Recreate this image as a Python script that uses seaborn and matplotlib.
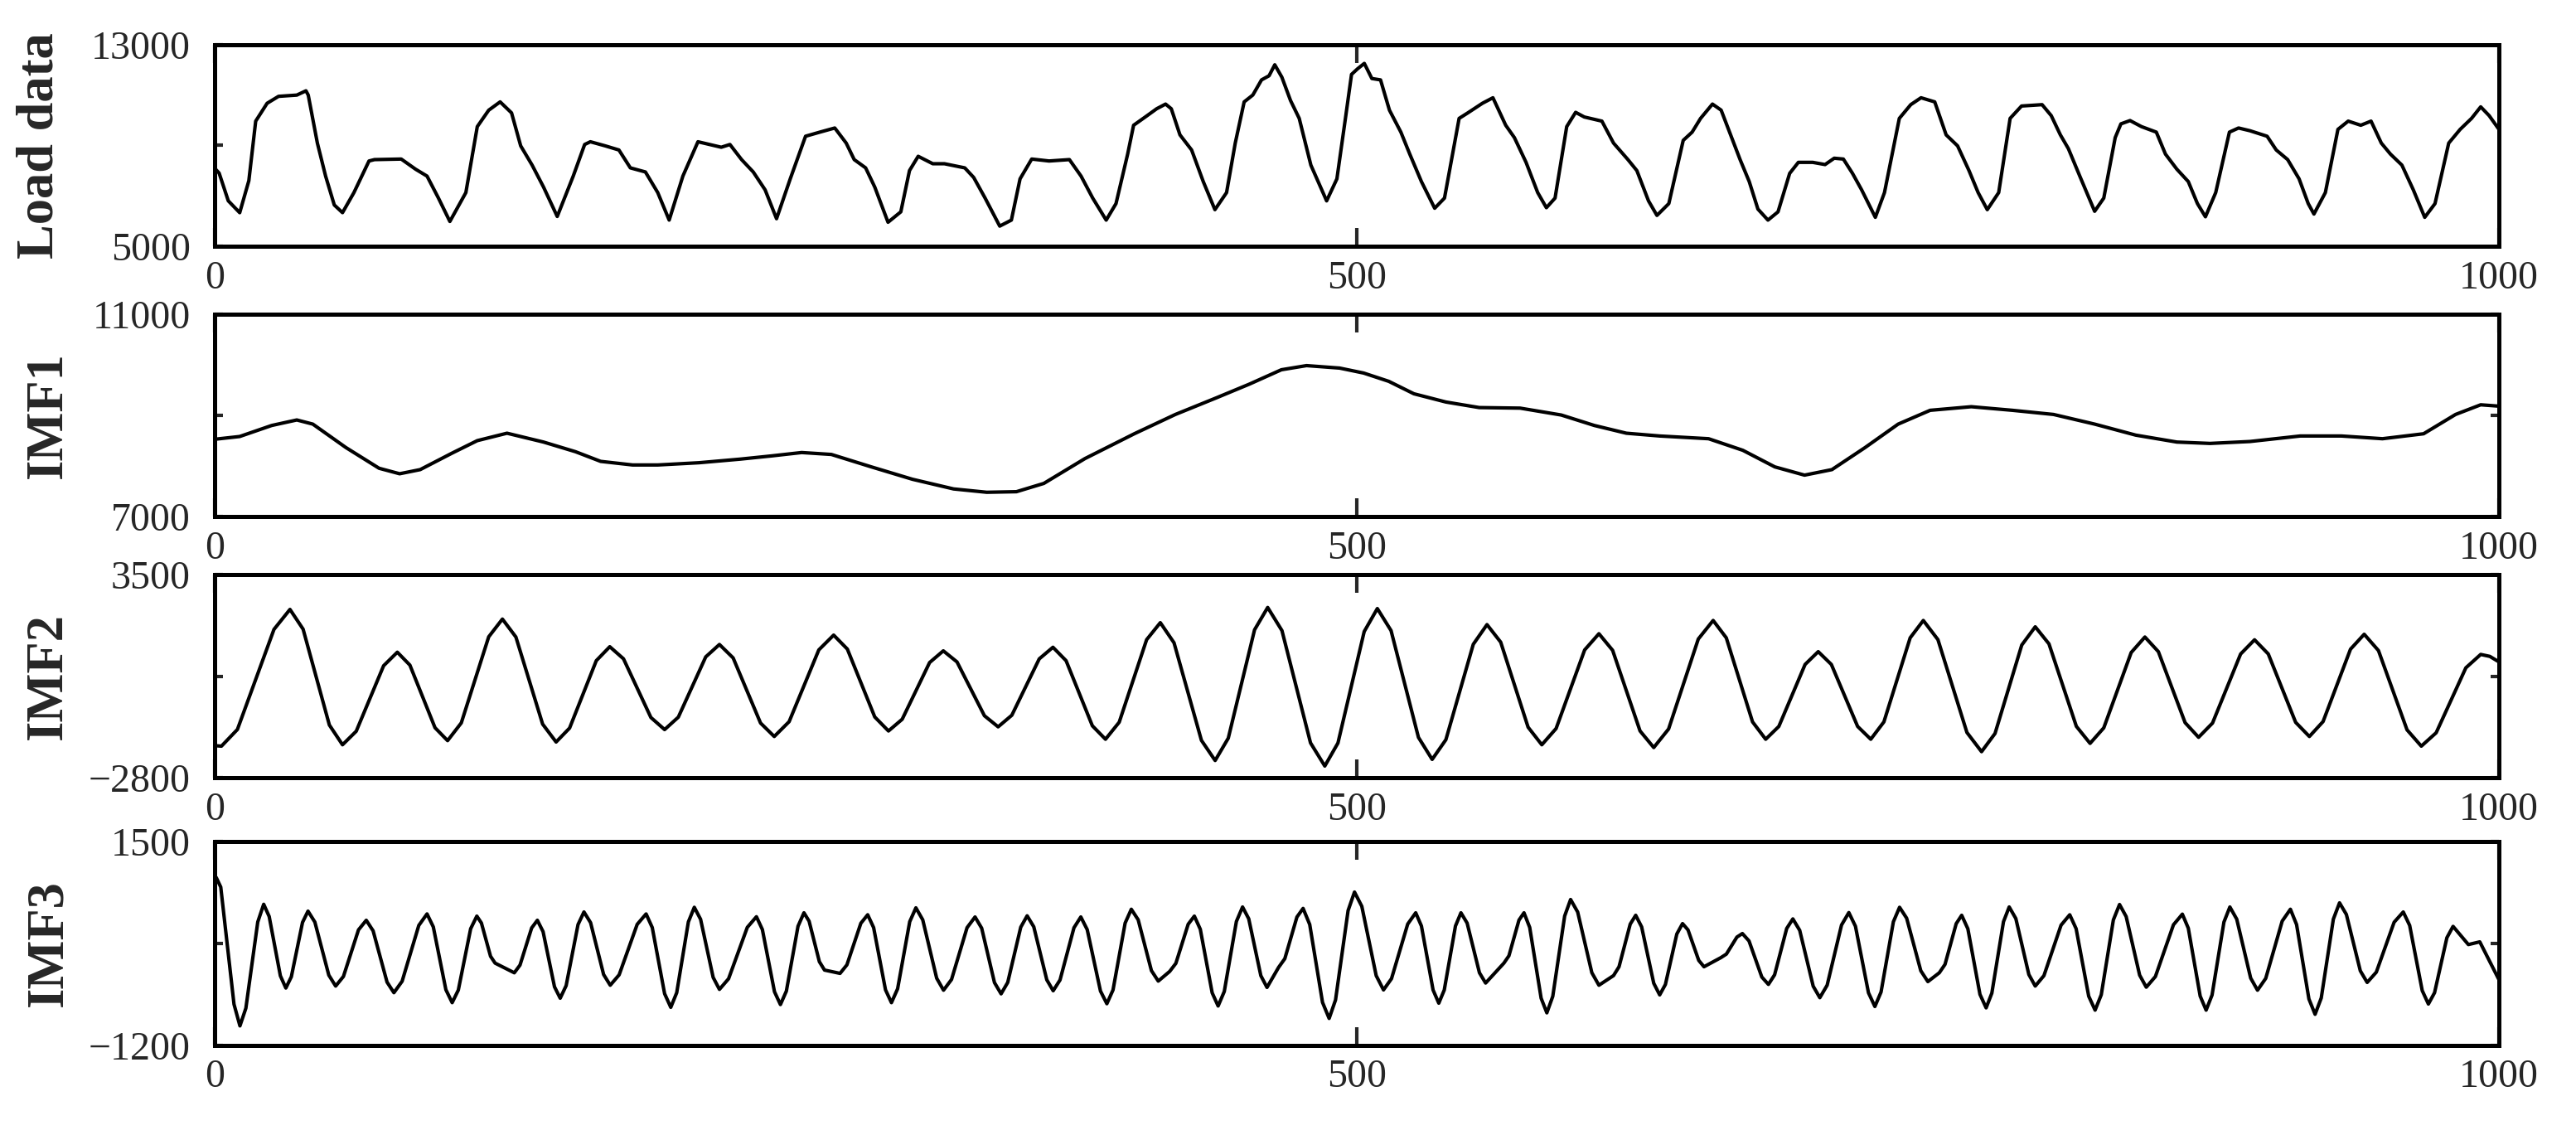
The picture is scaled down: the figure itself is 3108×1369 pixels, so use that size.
"""Load data and its first three IMFs, stacked line panels."""

import matplotlib

matplotlib.use("Agg")
import matplotlib.pyplot as plt
import pandas as pd
import seaborn as sns

# ---- values (sample index, value) ----
load_x = [0, 2, 6, 11, 15, 18, 23, 28, 36, 40, 41, 45, 48.6, 52.4, 56, 61, 67.6, 70,
          81.7, 88, 93, 98, 103, 110, 115, 120, 125, 130, 134, 139, 144, 150, 157, 162,
          164.5, 171, 177, 182, 188.6, 194, 199, 205, 211.6, 221.8, 225.6, 230.7, 235.8,
          241, 246, 252, 258.7, 265, 271.5, 276.5, 280, 285, 289, 294.8, 300.4, 304.2,
          308, 314.4, 319.5, 328.4, 332.3, 337.3, 343.7, 348.8, 352.6, 357.7, 365.3,
          374.2, 379.3, 384.4, 390.3, 394.6, 399.7, 402.3, 407.4, 412.4, 416.3, 418.8,
          422.6, 427.7, 432.8, 437.9, 443, 446.8, 450.7, 454.5, 458.3, 461.6, 464.1,
          467.2, 471, 474.8, 479.9, 486.8, 491.3, 495.2, 497.7, 500.3, 503.3, 506.6,
          510.4, 514.3, 519.3, 523.2, 528.3, 534.1, 538.4, 544.8, 548.6, 555, 559.6,
          565.2, 569, 574.1, 579.2, 583, 586.8, 591.9, 595.8, 599.6, 607.3, 612.4, 618.7,
          622.6, 627.7, 631.4, 636.6, 642.9, 646.8, 650.5, 655.7, 659.5, 663.2, 667.8,
          671.8, 675.6, 680, 684.4, 689.5, 693.3, 699.6, 705, 709, 713, 717, 721, 727,
          731, 737.5, 742.5, 747, 753, 758, 763, 768, 772, 776, 781, 786, 791, 800, 804,
          808, 811.5, 816.5, 823, 827, 832, 834.5, 838.5, 843.5, 850, 854, 859, 864, 868,
          871.5, 876, 882, 886, 891, 898.5, 902.5, 907.5, 912.5, 916.5, 919, 924, 929.5,
          934, 939.5, 944, 948.5, 952.5, 957.5, 962.5, 967.5, 972, 978, 983, 988, 992,
          995.7, 1000]
load_y = [8100, 7900, 6800, 6330, 7600, 9966, 10675, 10950, 11000, 11170, 11000, 9093,
          7783, 6636, 6331, 7128, 8383, 8438, 8460, 8056, 7783, 6910, 5982, 7128, 9748,
          10400, 10730, 10293, 8984, 8220, 7347, 6180, 7783, 9038, 9147, 8984, 8820, 8110,
          7947, 7128, 6036, 7783, 9147, 8929, 9038, 8438, 7947, 7237, 6091, 7674, 9366,
          9530, 9693, 9093, 8438, 8110, 7347, 5950, 6364, 8002, 8569, 8274, 8274, 8110,
          7729, 6910, 5797, 6036, 7674, 8460, 8383, 8438, 7783, 6910, 6036, 6691, 8656,
          9802, 10130, 10457, 10643, 10457, 9420, 8820, 7565, 6451, 7128, 9093, 10730,
          11003, 11603, 11767, 12203, 11712, 10784, 10075, 8220, 6800, 7674, 10184, 11821,
          12040, 12258, 11658, 11603, 10402, 9529, 8656, 7565, 6506, 6910, 10075, 10293,
          10675, 10894, 9802, 9311, 8329, 7128, 6528, 6910, 9748, 10315, 10130, 9966,
          9093, 8438, 8002, 6800, 6222, 6691, 9202, 9529, 10075, 10643, 10402, 9529, 8438,
          7565, 6473, 6036, 6364, 7892, 8329, 8329, 8241, 8493, 8460, 7892, 7237, 6146,
          7128, 10075, 10620, 10894, 10730, 9420, 8984, 8002, 7128, 6451, 7128, 10075,
          10566, 10620, 10184, 9420, 8874, 7783, 6386, 6910, 9311, 9857, 9988, 9748, 9529,
          8656, 8056, 7565, 6691, 6168, 7128, 9529, 9693, 9584, 9366, 8820, 8438, 7674,
          6691, 6277, 7128, 9638, 9966, 9802, 9966, 9093, 8656, 8220, 7237, 6146, 6691,
          9093, 9638, 10075, 10533, 10184, 9638]

imf1_x = [0, 11, 25, 36, 43, 57.5, 72, 81, 90, 104, 115, 128, 144, 158, 169, 183, 194,
          212, 230, 244, 257, 270, 287.5, 305.5, 323.5, 338, 351, 363, 381, 402.6, 420.6,
          438.5, 453, 467, 478, 492.5, 503, 514, 525, 539, 553.6, 571.5, 589.5, 604, 618,
          632.6, 654, 669, 683, 696, 708, 722.5, 737, 751, 769, 787, 805, 823, 841, 859,
          873.5, 891, 913, 931, 949, 967, 981, 992, 1000]
imf1_y = [8528, 8583, 8801, 8910, 8828, 8364, 7955, 7846, 7928, 8255, 8501, 8648, 8473,
          8282, 8091, 8020, 8020, 8064, 8135, 8200, 8266, 8228, 7982, 7737, 7546, 7480,
          7491, 7655, 8146, 8637, 9019, 9347, 9619, 9903, 9985, 9936, 9838, 9674, 9428,
          9265, 9155, 9144, 9008, 8801, 8648, 8593, 8539, 8310, 7982, 7819, 7928, 8364,
          8828, 9101, 9172, 9101, 9019, 8828, 8610, 8473, 8446, 8484, 8593, 8593, 8539,
          8637, 9019, 9210, 9183]

# one row per swing: shoulder, shoulder, turning point
imf2_x = [0, 3, 10, 26, 33,
          38.75, 50.25, 56, 62, 74, 80, 85.5, 96.5, 102, 108, 120, 126,
          131.9, 143.6, 149.5, 155.4, 167.1, 173, 179, 191, 197, 203, 215, 221,
          227, 239, 245, 251.5, 264.5, 271, 277, 289, 295, 301, 313, 319,
          325, 337, 343, 349, 361, 367, 372.75, 384.25, 390, 396, 408, 414,
          420, 432, 438, 443.75, 455.25, 461, 467.25, 479.75, 486, 491.75, 503.25, 509,
          515, 527, 533, 539, 551, 557, 563, 575, 581, 587.25, 599.75, 606,
          612, 624, 630, 636.5, 649.5, 656, 661.75, 673.25, 679, 684.75, 696.25, 702,
          707.75, 719.25, 725, 730.75, 742.25, 748, 754.4, 767.1, 773.5, 779.4, 791.1, 797,
          803, 815, 821, 827, 839, 845, 850.9, 862.6, 868.5, 874.6, 886.9, 893,
          899, 911, 917, 923, 935, 941, 947.25, 959.75, 966, 972.5, 985.5, 992,
          996, 1000]
imf2_y = [-1800, -1817, -1300, 1796, 2414,
          1803, -1163, -1774, -1356, 672, 1090, 691, -1247, -1646, -1097, 1566, 2115,
          1560, -1134, -1689, -1258, 829, 1260, 886, -930, -1304, -920, 945, 1329,
          913, -1102, -1518, -1060, 1161, 1619, 1186, -914, -1347, -985, 770, 1132,
          789, -876, -1219, -860, 884, 1243, 827, -1187, -1603, -1076, 1477, 2004,
          1381, -1638, -2261, -1570, 1783, 2474, 1758, -1716, -2432, -1721, 1729, 2440,
          1759, -1546, -2227, -1618, 1335, 1944, 1401, -1231, -1774, -1272, 1160, 1662,
          1148, -1346, -1860, -1286, 1498, 2072, 1535, -1066, -1603, -1207, 711, 1107,
          711, -1207, -1603, -1066, 1535, 2072, 1479, -1395, -1988, -1424, 1312, 1876,
          1349, -1204, -1731, -1251, 1080, 1560, 1107, -1090, -1543, -1103, 1034, 1474,
          1037, -1081, -1518, -1056, 1183, 1645, 1140, -1312, -1817, -1403, 607, 1021,
          960, 790]

imf3_x = [0.7, 2.7, 8.5, 11.1, 13.7, 18.9, 21.5, 23.9, 28.8, 31.2, 33.6, 38.5, 40.9,
          43.9, 50, 53, 56.4, 63, 66.4, 69.4, 75.5, 78.5, 82.1, 89.4, 93,
          95.75, 101.25, 104, 106.7, 112.1, 114.8, 116.8, 120.8, 122.8, 131.2,
          133.7, 138.8, 141.3, 143.8, 148.8, 151.3, 153.9, 159.1, 161.7,
          164.6, 170.3, 173.2, 177.1, 185, 188.9, 191.6, 197, 199.7,
          202.3, 207.4, 210, 212.75, 218.25, 221, 225, 233.2, 237.2,
          239.8, 245.1, 247.7, 250.3, 255.4, 258, 260.25, 264.75, 267, 273.8,
          276.8, 282.9, 285.9, 288.5, 293.7, 296.3, 299, 304.3, 307,
          310, 316.1, 319.1, 322.6, 329.4, 332.9, 335.8, 341.4, 344.3,
          347.2, 352.9, 355.7, 358.6, 364.3, 367.1, 370.1, 376.2, 379.2,
          382, 387.8, 390.6, 393.3, 398.6, 401.3, 404.3, 410.1, 413.1, 418.1,
          420.8, 426.2, 428.9, 431.5, 436.7, 439.3, 442, 447.3, 450,
          452.7, 458, 460.7, 465.8, 468.5, 473.8, 476.5, 479.4, 485, 487.9,
          490.7, 496.2, 499, 502.2, 508.5, 511.7, 515.2, 522.3, 525.8,
          528.3, 533.4, 535.9, 538.3, 543.2, 545.6, 548.3, 553.7, 556.4, 564.4,
          566.6, 571, 573.2, 575.7, 580.7, 583.2, 585.8, 591, 593.6,
          596.7, 602.9, 606, 612.4, 614.8, 619.7, 622.1, 624.7, 630, 632.6,
          635.1, 640.1, 642.6, 645, 649.7, 652, 659.4, 661.8, 666.4, 668.8,
          671.7, 677.3, 680.2, 682.9, 688.2, 690.9, 693.9, 699.8, 702.7,
          705.9, 712.2, 715.4, 718.3, 724, 726.8, 729.5, 734.9, 737.6,
          740.7, 746.9, 750, 755, 757.5, 762.4, 764.8, 767.5, 772.8, 775.5,
          778, 783.1, 785.6, 788.5, 794.2, 797, 800.8, 808.3, 812.1,
          814.9, 820.4, 823.2, 825.9, 831.2, 833.9, 836.8, 842.7, 845.6,
          849.6, 857.5, 861.4, 864, 869.2, 871.8, 874.4, 879.6, 882.2,
          885.2, 891.3, 894.3, 897.9, 905.1, 908.7, 911.4, 916.8, 919.5,
          922.2, 927.5, 930.2, 933.2, 939.3, 942.3, 946.3, 954.1, 958.1,
          960.9, 966.4, 969.1, 971.8, 977.2, 979.9, 986.6, 991.6, 1000]
imf3_y = [1024, 896, -657, -944, -709, 433, 668, 506, -280, -442, -293, 428, 577,
          432, -271, -416, -289, 329, 456, 316, -364, -504, -352, 388, 540,
          368, -464, -636, -469, 344, 511, 420, -21, -112, -240,
          -138, 354, 456, 305, -426, -577, -410, 399, 566,
          424, -263, -405, -267, 402, 540, 359, -517, -698,
          -504, 434, 628, 469, -301, -460, -319, 362, 503,
          333, -491, -661, -483, 377, 555, 444, -93, -204, -248,
          -135, 416, 529, 359, -466, -636, -452, 437, 621,
          462, -312, -471, -329, 358, 500, 351, -370, -519,
          -368, 364, 515, 370, -333, -478, -335, 357, 500,
          332, -482, -650, -467, 419, 602, 463, -211, -350, -222,
          -115, 404, 511, 337, -506, -680, -488, 440, 632,
          476, -278, -434, -167, -53, 499, 613, 400, -632, -845,
          -600, 585, 830, 641, -278, -467, -318, 406, 555,
          380, -468, -643, -468, 380, 555, 419, -240, -376, -112,
          -15, 458, 555, 361, -577, -771, -552, 512, 731,
          565, -239, -405, -277, -160, 405, 522, 368, -379, -533,
          -395, 274, 412, 328, -76, -160, -39, 8, 233, 280,
          182, -296, -394, -267, 347, 474, 322, -418, -570,
          -405, 393, 558, 376, -505, -687, -495, 436, 628,
          484, -213, -357, -240, -129, 411, 522, 343, -526, -705,
          -510, 437, 632, 479, -263, -416, -278, 391, 529,
          344, -550, -735, -531, 461, 665, 505, -271, -431,
          -290, 396, 537, 351, -549, -735, -535, 432, 632,
          471, -310, -471, -314, 445, 602, 399, -587, -790,
          -574, 471, 687, 533, -214, -368, -232, 430, 566,
          388, -476, -654, -504, 225, 375, 134, 170, -332]

panel_labels = ["Load data", "IMF1", "IMF2", "IMF3"]
y_limits = [(5000, 13000), (7000, 11000), (-2800, 3500), (-1200, 1500)]
y_mid_ticks = [9000, 9000, 350, 150]
x_ticks = [0, 500, 1000]


def fmt(v: int) -> str:
    return str(v).replace("-", "\u2212")


def plot_panel(ax, xs, ys, label, ylim, ymid, right_tick, label_x) -> None:
    data = pd.DataFrame({"t": xs, "v": ys})
    sns.lineplot(data=data, x="t", y="v", ax=ax, color="black", linewidth=1.0,
                 sort=False, estimator=None)
    ax.set_xlim(0, 1000)
    ax.set_ylim(*ylim)
    ax.set_xticks(x_ticks)
    ax.set_xticklabels([str(t) for t in x_ticks])
    ax.set_yticks([ylim[0], ymid, ylim[1]])
    ax.set_yticklabels([fmt(ylim[0]), "", fmt(ylim[1])])
    ax.set_xlabel("")
    ax.set_ylabel(label, fontsize=15, fontweight="bold")
    ax.yaxis.set_label_coords(label_x, 0.5)
    ax.tick_params(axis="x", direction="in", top=True, bottom=True, length=5.3,
                   width=1.0, pad=4, labelsize=11.5)
    ax.tick_params(axis="y", direction="in", left=True, right=right_tick, length=2.4,
                   width=1.0, pad=7, labelsize=11.5)
    for spine in ax.spines.values():
        spine.set_linewidth(1.2)
        spine.set_color("black")


def main() -> None:
    sns.set_style("white")
    plt.rcParams["font.family"] = ["Liberation Serif", "DejaVu Serif"]
    plt.rcParams["axes.unicode_minus"] = True

    fig = plt.figure(figsize=(3108 / 300, 1369 / 300), dpi=300)
    left, width = 0.0833, 0.8868
    boxes = [(0.7831, 0.1775), (0.5449, 0.1782), (0.3146, 0.1794), (0.0791, 0.1795)]
    series = [(load_x, load_y), (imf1_x, imf1_y), (imf2_x, imf2_y), (imf3_x, imf3_y)]

    for i, ((bottom, height), (xs, ys)) in enumerate(zip(boxes, series)):
        ax = fig.add_axes([left, bottom, width, height])
        plot_panel(ax, xs, ys, panel_labels[i], y_limits[i], y_mid_ticks[i],
                   right_tick=(i > 0), label_x=-0.0657 if i == 0 else -0.062)

    fig.savefig("out.png", dpi=300, facecolor="white")


if __name__ == "__main__":
    main()
